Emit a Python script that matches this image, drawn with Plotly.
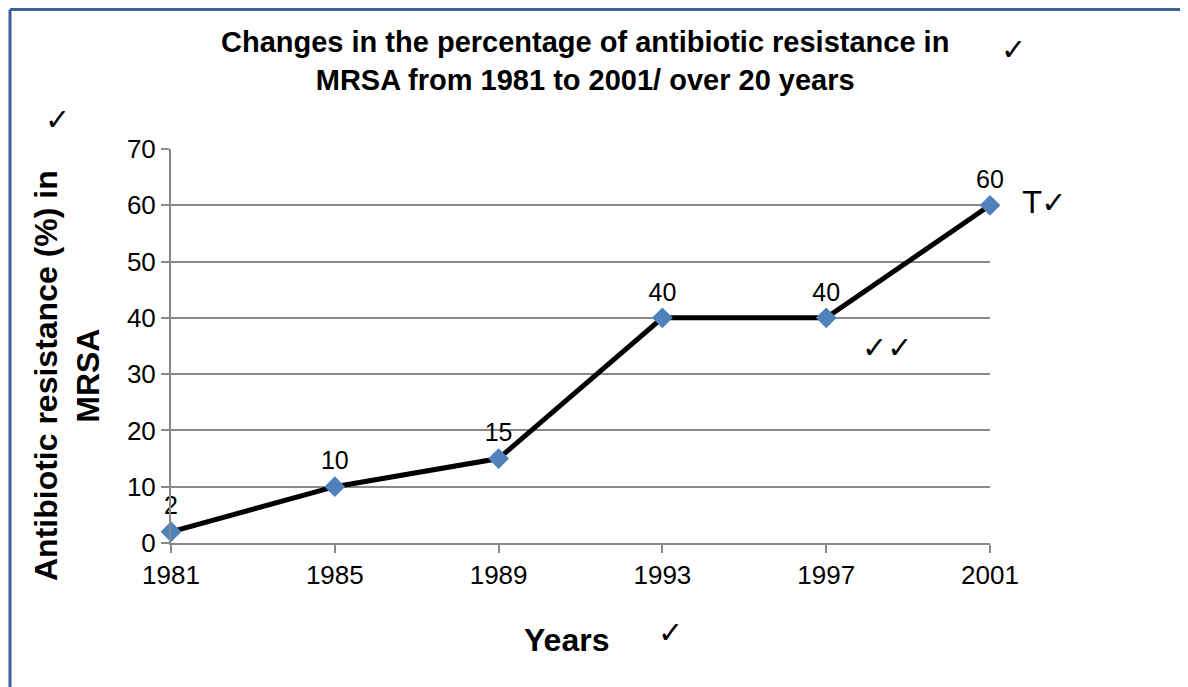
import plotly.graph_objects as go

years = [1981, 1985, 1989, 1993, 1997, 2001]
resistance = [2, 10, 15, 40, 40, 60]
year_labels = ["1981", "1985", "1989", "1993", "1997", "2001"]
y_ticks = [0, 10, 20, 30, 40, 50, 60, 70]

OFF = 8  # browser body margin
W, H = 1180, 679
L, R, T, B = 171 - OFF, 198, 149 - OFF, 144
pw, ph = W - L - R, H - T - B

def px(x):
    return (x - OFF - L) / pw

def py(y):
    return (H - B - (y - OFF)) / ph

FONT = "Liberation Sans, Arial"

fig = go.Figure()
fig.add_trace(go.Scatter(
    x=years, y=resistance, mode="lines+markers+text",
    text=[str(v) for v in resistance], textposition="top center",
    textfont=dict(family=FONT, size=25, color="black"),
    line=dict(color="black", width=5),
    marker=dict(symbol="diamond", size=16, color="#4F81BD"),
    cliponaxis=False, showlegend=False,
))

fig.update_xaxes(
    range=[1981, 2001], tickvals=years, ticktext=year_labels,
    showgrid=False, showline=True, linecolor="#898989", linewidth=2,
    ticks="outside", ticklen=8, tickcolor="#898989", tickwidth=2,
    tickfont=dict(family=FONT, size=26, color="black"),
    zeroline=False,
)
fig.update_yaxes(
    range=[0, 70], tickvals=y_ticks,
    showgrid=True, gridcolor="#898989", gridwidth=1.5,
    showline=True, linecolor="#898989", linewidth=2,
    ticks="outside", ticklen=8, tickcolor="#898989", tickwidth=2,
    tickfont=dict(family=FONT, size=26, color="black"),
    zeroline=False,
)

annotations = [
    dict(text="<b>Changes in the percentage of antibiotic resistance in<br>MRSA from 1981 to 2001/ over 20 years</b>",
         x=px(585), y=py(61), xref="paper", yref="paper", xanchor="center", yanchor="middle",
         showarrow=False, font=dict(family=FONT, size=29, color="black")),
    dict(text="<b>Antibiotic resistance (%) in<br>MRSA</b>", textangle=-90,
         x=px(67), y=py(376), xref="paper", yref="paper", xanchor="center", yanchor="middle",
         showarrow=False, font=dict(family=FONT, size=32, color="black")),
    dict(text="<b>Years</b>", x=px(566), y=py(640), xref="paper", yref="paper",
         xanchor="center", yanchor="middle", showarrow=False,
         font=dict(family=FONT, size=32, color="black")),
    dict(text="T✓", x=px(1020), y=py(202), xref="paper", yref="paper",
         xanchor="left", yanchor="middle", showarrow=False,
         font=dict(family="DejaVu Sans", size=30, color="black")),
]
for (cx, cy, t) in [(1014, 50, "✓"), (57, 119, "✓"), (887, 347, "✓✓"), (670, 632, "✓")]:
    annotations.append(dict(text=t, x=px(cx), y=py(cy), xref="paper", yref="paper",
                            xanchor="center", yanchor="middle", showarrow=False,
                            font=dict(family="DejaVu Sans", size=30, color="black")))

shapes = [
    dict(type="line", xref="paper", yref="paper", x0=px(10), x1=px(10), y0=py(H + 20), y1=py(9.5),
         line=dict(color="#3C6395", width=3)),
    dict(type="line", xref="paper", yref="paper", x0=px(10), x1=px(W + 20), y0=py(9.5), y1=py(9.5),
         line=dict(color="#3C6395", width=3)),
]

fig.update_layout(
    width=W, height=H, margin=dict(l=L, r=R, t=T, b=B),
    paper_bgcolor="white", plot_bgcolor="white",
    annotations=annotations, shapes=shapes,
)
fig.write_html("out.html")
